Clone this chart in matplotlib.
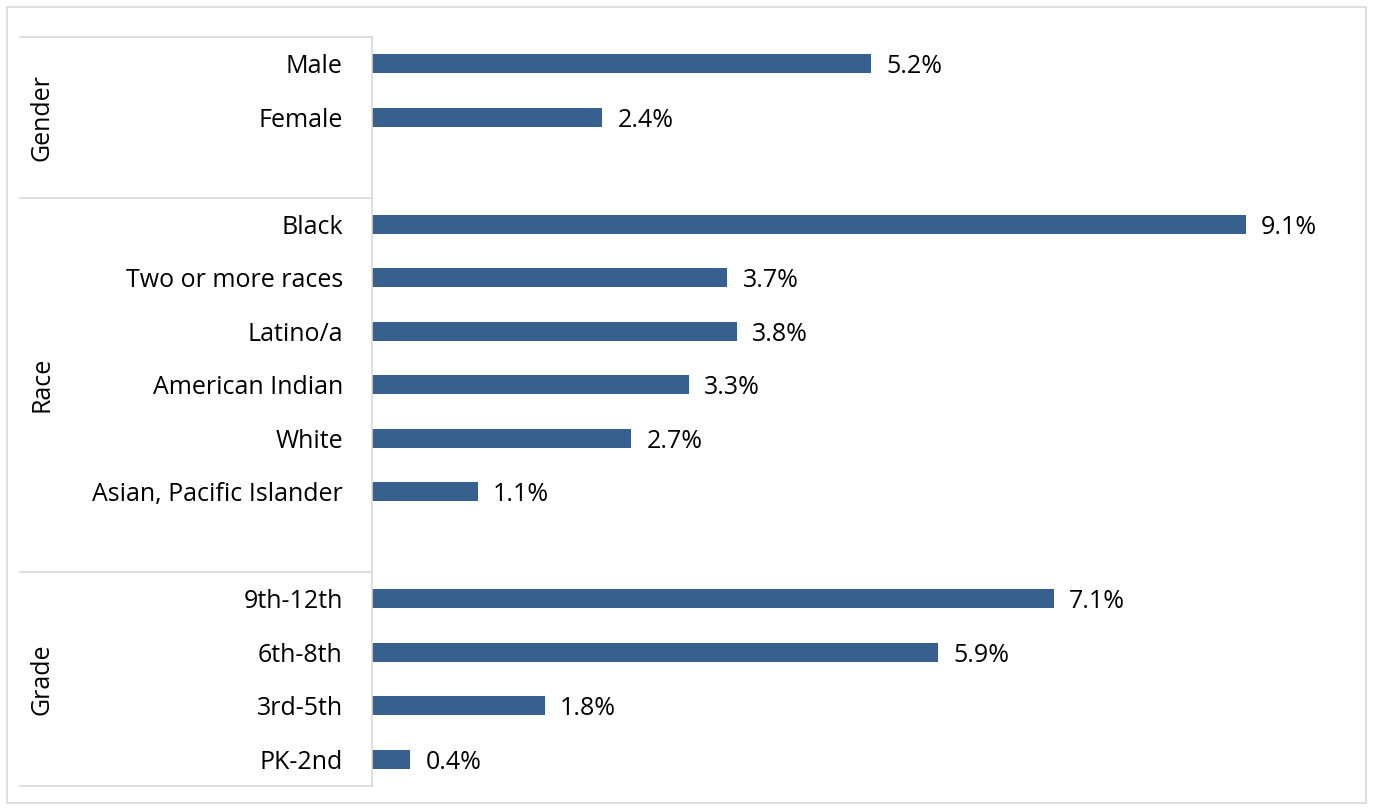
import matplotlib
matplotlib.use("Agg")
import matplotlib.pyplot as plt
from matplotlib.transforms import blended_transform_factory
from matplotlib.patches import Rectangle

# Data: share of students (%) by group
group_names = ["Gender", "Race", "Grade"]
gender_labels = ["Male", "Female"]
gender_values = [5.2, 2.4]
race_labels = ["Black", "Two or more races", "Latino/a", "American Indian",
               "White", "Asian, Pacific Islander"]
race_values = [9.1, 3.7, 3.8, 3.3, 2.7, 1.1]
grade_labels = ["9th-12th", "6th-8th", "3rd-5th", "PK-2nd"]
grade_values = [7.1, 5.9, 1.8, 0.4]

groups = [(gender_labels, gender_values, True),
          (race_labels, race_values, True),
          (grade_labels, grade_values, False)]

BAR = "#37608F"
GRID = "#D9D9D9"
FONT = "Open Sans"
FS = 18

W, H = 1373, 810
fig = plt.figure(figsize=(W / 100, H / 100), dpi=100)
ax_left, ax_right, ax_top, ax_bot = 372, 1332, 37, 786
ax = fig.add_axes([ax_left / W, 1 - ax_bot / H,
                   (ax_right - ax_left) / W, (ax_bot - ax_top) / H])

# Lay out categories with an empty slot after each group except the last
positions, labels, values = [], [], []
bounds = [-0.5]
centers = []
pos = 0
for labs, vals, gap in groups:
    start = pos
    for lab, val in zip(labs, vals):
        positions.append(pos)
        labels.append(lab)
        values.append(val)
        pos += 1
    if gap:
        pos += 1
    bounds.append(pos - 0.5)
    centers.append((start - 0.5 + pos - 0.5) / 2)

ax.barh(positions, values, height=0.36, color=BAR)
for p, v in zip(positions, values):
    ax.annotate(f"{v:.1f}%", xy=(v, p), xytext=(11, 0), textcoords="offset points",
                ha="left", va="center_baseline", fontsize=FS, family=FONT,
                color="#000000")

ax.set_xlim(0, 10)
ax.set_ylim(pos - 0.5, -0.5)
ax.set_yticks(positions)
ax.set_yticklabels(labels, fontsize=FS, family=FONT, color="#000000")
ax.tick_params(axis="y", length=0, pad=21)
ax.set_xticks([])
for side in ["top", "right", "bottom"]:
    ax.spines[side].set_visible(False)
ax.spines["left"].set_color(GRID)
ax.spines["left"].set_linewidth(1.2)

# Group separators and group labels on the category axis
tr = blended_transform_factory(fig.transFigure, ax.transData)
for b in bounds:
    ax.plot([20 / W, ax_left / W], [b, b], transform=tr, color=GRID,
            linewidth=1.2, clip_on=False)
for name, c in zip(group_names, centers):
    ax.text(42 / W, c, name, transform=tr, rotation=90, ha="center",
            va="center", fontsize=FS, family=FONT, color="#000000")

# Chart frame
fig.patches.append(Rectangle((7 / W, 1 - 803 / H), (1366 - 7) / W, (803 - 7) / H,
                             transform=fig.transFigure, fill=False,
                             edgecolor=GRID, linewidth=1.2))

fig.savefig("out.png", dpi=100, facecolor="white")
